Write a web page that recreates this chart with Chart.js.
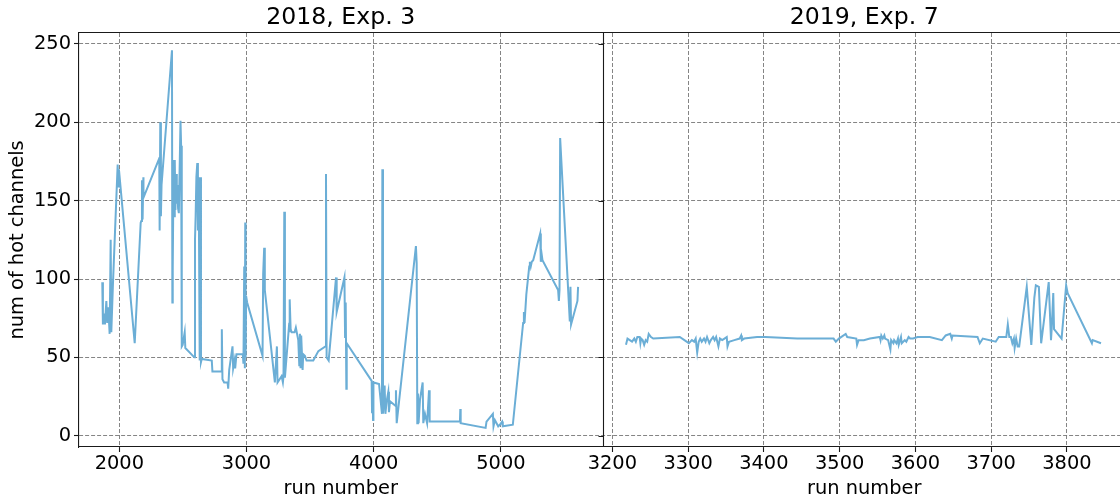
<!DOCTYPE html>
<html>
<head>
<meta charset="utf-8">
<script src="https://cdn.jsdelivr.net/npm/chart.js@4/dist/chart.umd.min.js"></script>
<style>
  html, body { margin: 0; padding: 0; background: #fff; }
  #wrap { position: relative; width: 1120px; height: 502px; overflow: hidden; background: #fff; }
  #c { position: absolute; left: 0; top: 0; }
</style>
</head>
<body>
<div id="wrap"><canvas id="c" width="1130" height="502"></canvas></div>
<script>
// ---- data ----
const panelTitles = ['2018, Exp. 3', '2019, Exp. 7'];
const xAxisTitle = 'run number';
const yAxisTitle = 'num of hot channels';

const yTicks = [0, 50, 100, 150, 200, 250];
const xTicks2018 = [2000, 3000, 4000, 5000];
const xTicks2019 = [3200, 3300, 3400, 3500, 3600, 3700, 3800];

const runs2018 = [1866,1871,1879,1887,1898,1905,1913,1924,1932,1937,1950,1987,1992,1997,2121,2168,2173,2178,2183,2189,2190,
  2314,2317,2322,2327,2332,2414,2417,2420,2427,2432,2436,2441,2447,2452,2457,2462,2468,2481,2486,2491,2498,2514,2519,
  2590,2595,2600,2606,2613,2618,2624,2632,2638,2642,2648,2727,2732,2803,2806,2811,2824,2851,2856,2864,2890,2895,2906,2911,2921,
  2971,2976,2982,2987,2990,2993,2997,3005,3126,3131,3139,3144,3223,3239,3244,3276,3286,3291,3297,3302,3336,3338,3341,3347,3355,
  3378,3388,3407,3415,3420,3425,3430,3441,3446,3459,3472,3525,3565,3620,3625,3630,3646,3704,3709,3770,3775,3780,3785,3788,
  3984,3987,3990,3995,3998,4042,4065,4068,4073,4086,4092,4102,4115,4120,4128,4173,4175,4181,4332,4338,4343,4348,4353,4364,
  4385,4390,4403,4420,4435,4440,4678,4681,4684,4880,4887,4937,4942,4953,4966,4979,4992,5010,5015,5094,5175,5181,5186,5200,
  5223,5228,5235,5243,5254,5309,5314,5322,5327,5450,5456,5461,5466,5542,5547,5552,5602,5607];
const hot2018 = [98,71,78,71,86,72,82,65,125,66,97,173,159,170,59,136,137,163,138,165,152,
  177,131,200,140,160,246,85,107,176,140,176,144,167,148,160,145,142,201,185,57,58,66,56,
  50,125,140,165,174,131,165,48,165,47,49,48,41,41,68,36,34,34,30,42,57,43,48,43,52,
  52,46,108,43,136,50,89,85,51,103,120,93,34,57,34,38,34,38,143,37,72,66,87,68,66,
  66,69,61,45,65,43,64,42,52,51,48,48,54,57,167,50,48,101,79,101,63,85,30,59,
  35,15,34,10,34,33,14,170,14,32,14,22,28,15,22,19,29,8,121,110,8,27,8,23,
  34,8,14,8,29,9,9,17,8,5,9,14,6,10,8,6,7,9,6,7,72,79,72,90,
  108,111,108,111,112,129,111,115,112,93,86,93,190,73,95,71,86,95];

const runs2019 = [3218,3220,3223,3226,3229,3231,3233,3236,3237,3238,3240,3242,3244,3246,3248,3251,3254,3289,3298,3301,3305,
  3308,3310,3312,3314,3316,3318,3321,3323,3325,3328,3330,3333,3335,3337,3339,3340,3342,3345,3348,3351,3352,3354,3361,3368,
  3370,3371,3374,3391,3402,3444,3492,3495,3499,3508,3510,3522,3523,3525,3532,3540,3553,3554,3555,3557,3559,3560,3564,3567,
  3568,3571,3572,3575,3577,3578,3581,3582,3586,3588,3591,3593,3597,3603,3619,3635,3640,3646,3648,3649,3682,3685,3689,3706,
  3710,3720,3722,3724,3726,3728,3730,3731,3733,3735,3737,3747,3753,3757,3759,3763,3766,3776,3779,3780,3782,3783,3793,3799,
  3801,3833,3834,3845];
const hot2019 = [58,62,61,60,62,60,63,63,59,62,61,58,61,60,65,63,62,63,60,59,61,
  60,62,53,60,62,60,62,60,63,59,61,63,61,63,59,57,62,61,62,63,57,60,61,62,
  64,61,62,63,63,62,62,60,62,65,63,62,58,61,61,62,63,61,64,62,64,62,61,55,
  61,59,61,59,62,58,63,59,61,60,63,62,62,63,63,61,64,65,62,64,63,59,62,60,
  63,63,71,63,63,59,62,56,62,57,57,95,58,88,96,95,59,98,61,69,91,68,62,96,
  91,59,61,59];

// ---- chart ----
const FONT = "'DejaVu Sans', 'Liberation Sans', sans-serif";
const LINE = '#6baed6';
const GRID = 'rgba(120,120,120,0.9)';
const SPINE = '#1a1a1a';

const pts = (xs, ys) => xs.map((x, i) => ({x: x, y: ys[i]}));
const fixTicks = arr => s => { s.ticks = arr.map(v => ({value: v})); };

function bottomAxis(tickArr, min, max) {
  return {
    type: 'linear', position: 'bottom', stack: 'bottomRow', stackWeight: 1,
    min: min, max: max,
    afterBuildTicks: fixTicks(tickArr),
    afterFit: s => { s.height = 55; },
    ticks: { autoSkip: false, maxRotation: 0, minRotation: 0, padding: 2, color: '#000',
             font: { family: FONT, size: 19.4, lineHeight: 1.0 }, callback: v => String(v) },
    grid: { display: true, color: GRID, lineWidth: 1, drawTicks: true, tickLength: 5,
            tickColor: SPINE, tickWidth: 1.1, tickBorderDash: [] },
    border: { display: true, color: SPINE, width: 1.1, dash: [4, 2] },
    title: { display: true, text: xAxisTitle, color: '#000',
             font: { family: FONT, size: 19.4, lineHeight: 1.2 }, padding: { top: 0, bottom: 1 } }
  };
}
function topAxis(title, min, max) {
  return {
    type: 'linear', position: 'top', stack: 'topRow', stackWeight: 1,
    min: min, max: max,
    afterFit: s => { s.height = 33; },
    ticks: { display: false },
    grid: { display: false, drawTicks: false },
    border: { display: true, color: SPINE, width: 1.1 },
    title: { display: true, text: title, color: '#000',
             font: { family: FONT, size: 23.6, lineHeight: 1.2 }, padding: { top: 4, bottom: 0 } }
  };
}

// spine + outward ticks on the left edge of the right panel
const middleSpine = {
  id: 'middleSpine',
  afterDraw(chart) {
    const {ctx, chartArea} = chart;
    const xs = chart.scales.x2, ys = chart.scales.y;
    const x = Math.round(xs.left) + 0.5;
    ctx.save();
    ctx.strokeStyle = SPINE;
    ctx.lineWidth = 1.1;
    ctx.setLineDash([]);
    ctx.beginPath();
    ctx.moveTo(x, chartArea.top);
    ctx.lineTo(x, chartArea.bottom);
    yTicks.forEach(v => {
      const y = Math.round(ys.getPixelForValue(v)) + 0.5;
      ctx.moveTo(x - 5, y);
      ctx.lineTo(x, y);
    });
    ctx.stroke();
    ctx.restore();
  }
};

new Chart(document.getElementById('c'), {
  type: 'line',
  data: {
    datasets: [
      { label: panelTitles[0], data: pts(runs2018, hot2018), xAxisID: 'x1', yAxisID: 'y',
        borderColor: LINE, backgroundColor: LINE, borderWidth: 2, pointRadius: 0, tension: 0, fill: false },
      { label: panelTitles[1], data: pts(runs2019, hot2019), xAxisID: 'x2', yAxisID: 'y',
        borderColor: LINE, backgroundColor: LINE, borderWidth: 2, pointRadius: 0, tension: 0, fill: false }
    ]
  },
  options: {
    responsive: false,
    animation: false,
    devicePixelRatio: 1,
    layout: { padding: { left: 0, right: 4, top: 0, bottom: 0 } },
    plugins: { legend: { display: false }, title: { display: false }, tooltip: { enabled: false } },
    scales: {
      x1: bottomAxis(xTicks2018, 1683, 5799),
      x2: bottomAxis(xTicks2019, 3187, 3878),
      // top boxes are laid out in reverse order, so the right panel's top axis is listed first
      x2t: topAxis(panelTitles[1], 3187, 3878),
      x1t: topAxis(panelTitles[0], 1683, 5799),
      y: {
        type: 'linear', position: 'left', min: -7.2, max: 257,
        afterBuildTicks: fixTicks(yTicks),
        afterFit: s => { s.width = 79; },
        ticks: { padding: 3, color: '#000', font: { family: FONT, size: 19.4 }, callback: v => String(v) },
        grid: { display: true, color: GRID, lineWidth: 1, drawTicks: true, tickLength: 5,
                tickColor: SPINE, tickWidth: 1.1, tickBorderDash: [] },
        border: { display: true, color: SPINE, width: 1.1, dash: [4, 2] },
        title: { display: true, text: yAxisTitle, color: '#000',
                 font: { family: FONT, size: 19.4, lineHeight: 1.2 }, padding: { top: 6.5, bottom: 0 } }
      }
    }
  },
  plugins: [middleSpine]
});
</script>
</body>
</html>
